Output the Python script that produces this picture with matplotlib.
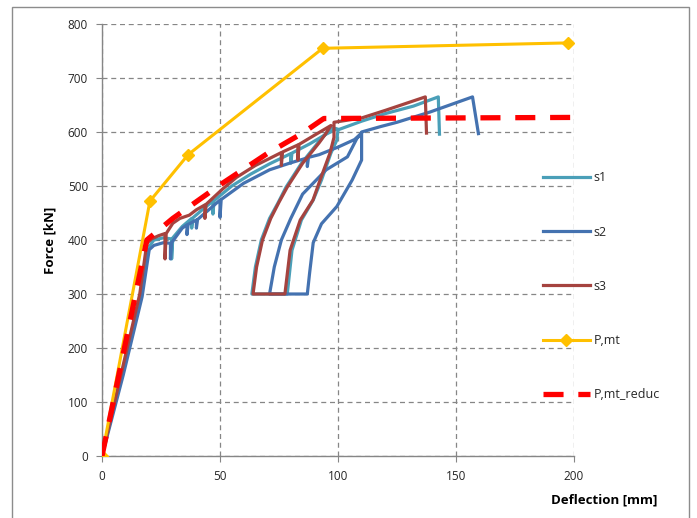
import matplotlib

matplotlib.use("Agg")
import matplotlib.pyplot as plt
from matplotlib.patches import Rectangle

# --- data (deflection mm, force kN) ---
s1_x = [0, 8, 16.5, 19.5, 22, 26, 29.5, 29.5, 30, 34, 38, 38, 38.5, 43, 47, 47, 47.5,
        55, 63, 71, 80, 80, 80.5, 88, 95, 99.5,
        97, 91.5, 84.5, 78, 74.5, 71, 67.5, 65, 63.5,
        78.5, 80.5, 84.5, 89.5, 93, 97, 99.5, 100,
        110, 120, 132, 142.5, 143]
s1_y = [0, 145, 295, 385, 400, 404, 402, 365, 404, 425, 440, 422, 441, 458, 472, 448, 473,
        500, 522, 541, 560, 542, 561, 578, 596, 606,
        608, 580, 542, 498, 468, 440, 400, 350, 300,
        300, 381, 437, 474, 511, 561, 585, 604,
        620, 634, 648, 665, 596]

s2_x = [0, 9, 17, 20, 22, 26, 29, 29, 29.5, 34, 36, 36, 36.5, 40, 40, 40.5, 45, 50, 50, 50.5,
        60, 71, 80, 87, 87, 87.5, 92, 100, 107, 110,
        108, 104, 95, 85, 80, 76, 73, 71,
        87, 88, 89.5, 93, 99.5, 106, 110, 110,
        118, 125, 139, 157, 159.5]
s2_y = [0, 150, 295, 382, 390, 395, 394, 365, 395, 422, 428, 410, 429, 437, 422, 438, 455, 474, 442, 475,
        505, 530, 543, 552, 536, 553, 558, 572, 586, 598,
        588, 554, 530, 485, 440, 400, 350, 300,
        300, 340, 395, 430, 462, 511, 548, 600,
        610, 618, 637, 665, 597]

s3_x = [0, 8, 16, 19, 21, 24, 26.7, 26.7, 27.2, 30, 33, 37, 40, 43.6, 43.6, 44.1,
        51, 57, 65, 71, 76, 76, 76.5, 83, 83, 83.5, 90, 97,
        95, 92, 85, 78.5, 75, 71.5, 68, 65.5, 64,
        77.5, 79.7, 84, 89.4, 92.4, 96.6, 98.3, 98.3,
        110, 120, 137, 137.5]
s3_y = [0, 150, 300, 394, 402, 408, 412, 365, 412, 431, 440, 446, 456, 465, 440, 466,
        494, 516, 538, 551, 562, 538, 563, 576, 548, 577, 594, 612,
        598, 580, 542, 498, 470, 440, 400, 350, 300,
        300, 381, 437, 474, 511, 561, 590, 618,
        626, 640, 665, 598]

pmt_x = [0, 20.3, 36.5, 93.5, 197.5]
pmt_y = [0, 472, 558, 755, 765]

red_x = [0, 19, 30, 50, 70, 85, 94, 200]
red_y = [0, 400, 440, 502, 560, 598, 625, 627]

x_ticks = [0, 50, 100, 150, 200]
y_ticks = [0, 100, 200, 300, 400, 500, 600, 700, 800]

C_S1 = "#4A9FB8"
C_S2 = "#4472B0"
C_S3 = "#A5433F"
C_PMT = "#FFC000"
C_RED = "#FF0000"
GRID = "#868686"
INK = "#262626"

plt.rcParams["font.family"] = ["Open Sans", "DejaVu Sans"]

fig = plt.figure(figsize=(6.97, 5.18), dpi=100)
ax = fig.add_axes([102 / 697, 62 / 518, 472 / 697, 432 / 518])

ax.plot(s1_x, s1_y, color=C_S1, lw=2.3, label="s1", zorder=3, solid_joinstyle="round")
ax.plot(s2_x, s2_y, color=C_S2, lw=2.3, label="s2", zorder=3, solid_joinstyle="round")
ax.plot(s3_x, s3_y, color=C_S3, lw=2.3, label="s3", zorder=3, solid_joinstyle="round")
ax.plot(pmt_x, pmt_y, color=C_PMT, lw=2.2, marker="D", ms=6, label="P,mt", zorder=4)
ax.plot(red_x, red_y, color=C_RED, lw=3.8, dashes=(3.8, 2.8), label="P,mt_reduc", zorder=5)

ax.set_xlim(0, 200)
ax.set_ylim(0, 800)
ax.set_xticks(x_ticks)
ax.set_yticks(y_ticks)
ax.tick_params(axis="both", labelsize=8.5, colors=INK, length=4, color=GRID, pad=6)
ax.grid(True, color=GRID, ls=(0, (4, 3)), lw=0.9, zorder=0)
for s in ("top", "right"):
    ax.spines[s].set_visible(False)
for s in ("left", "bottom"):
    ax.spines[s].set_color(GRID)
    ax.spines[s].set_linewidth(1.0)

ax.set_ylabel("Force [kN]", fontsize=9.5, fontweight="bold", color="black", labelpad=8)
fig.text(657 / 697, 1 - 500 / 518, "Deflection [mm]", ha="right", va="center",
         fontsize=9.5, fontweight="bold", color="black")

leg = fig.legend(loc="upper left", bbox_to_anchor=(532 / 697, 1 - 160 / 518),
                 frameon=False, fontsize=9, handlelength=3.7, handletextpad=0.35,
                 labelspacing=3.3, labelcolor=INK)

# outer chart frame
fig.patches.append(Rectangle((12 / 697, -0.01), (689 - 12) / 697, 1 - 7 / 518 + 0.01,
                             transform=fig.transFigure, fill=False,
                             edgecolor="#8c8c8c", lw=1.0))

fig.savefig("out.png", dpi=100)
